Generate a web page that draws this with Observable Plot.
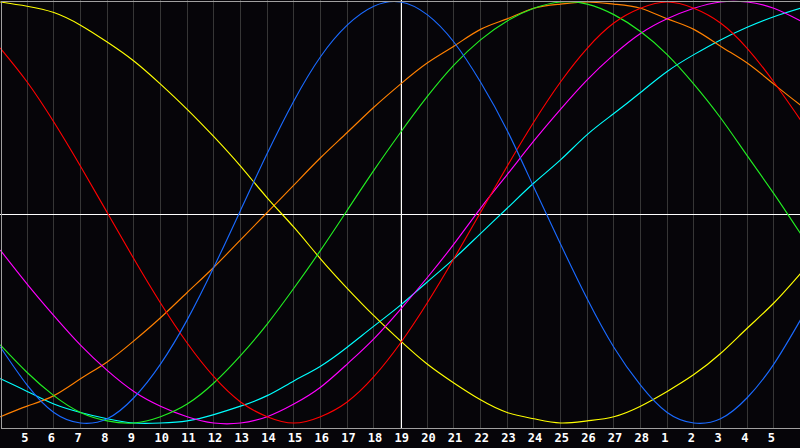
<!DOCTYPE html>
<html>
<head>
<meta charset="utf-8">
<script src="https://cdn.jsdelivr.net/npm/d3@7"></script>
<script src="https://cdn.jsdelivr.net/npm/@observablehq/plot@0.6"></script>
<style>
  html, body { margin: 0; padding: 0; background: #060509; }
  #chart svg { display: block; }
</style>
</head>
<body>
<div id="chart"></div>
<script>
// Day labels at grid lines 1..29 (day index 0..30 spans the chart)
const dayLabels = [5,6,7,8,9,10,11,12,13,14,15,16,17,18,19,20,21,22,23,24,25,26,27,28,1,2,3,4,5];
const todayIndex = 15;

// Values per day index 0..30 (-1 .. 1)
const blue = [-0.64,-0.82,-0.95,-1.00,-0.98,-0.88,-0.72,-0.51,-0.26,0.01,0.28,0.53,0.74,0.89,0.98,1.00,0.94,0.81,0.62,0.39,0.12,-0.15,-0.41,-0.64,-0.82,-0.95,-1.00,-0.98,-0.88,-0.72,-0.51];
const red = [0.78,0.62,0.43,0.22,0.00,-0.22,-0.43,-0.62,-0.78,-0.90,-0.97,-1.00,-0.97,-0.90,-0.78,-0.62,-0.43,-0.22,0.00,0.22,0.43,0.62,0.78,0.90,0.97,1.00,0.97,0.90,0.78,0.62,0.44];
const green = [-0.63,-0.76,-0.87,-0.95,-0.99,-1.00,-0.97,-0.91,-0.81,-0.68,-0.53,-0.36,-0.18,0.01,0.20,0.38,0.55,0.70,0.82,0.91,0.97,1.00,0.99,0.94,0.86,0.75,0.61,0.45,0.27,0.09,-0.10];
const yellow = [1.00,0.98,0.95,0.89,0.81,0.72,0.61,0.49,0.36,0.22,0.07,-0.07,-0.22,-0.36,-0.49,-0.61,-0.72,-0.81,-0.89,-0.95,-0.98,-1.00,-0.99,-0.97,-0.92,-0.85,-0.77,-0.67,-0.55,-0.43,-0.29];
const orange = [-0.97,-0.92,-0.87,-0.79,-0.71,-0.61,-0.50,-0.38,-0.26,-0.13,0.00,0.13,0.26,0.38,0.50,0.61,0.71,0.79,0.87,0.92,0.97,0.99,1.00,0.99,0.97,0.92,0.87,0.79,0.71,0.61,0.51];
const magenta = [-0.18,-0.34,-0.49,-0.63,-0.75,-0.85,-0.92,-0.97,-1.00,-1.00,-0.97,-0.91,-0.83,-0.72,-0.60,-0.46,-0.31,-0.15,0.02,0.18,0.34,0.49,0.63,0.75,0.85,0.92,0.97,1.00,1.00,0.97,0.91];
const cyan = [-0.79,-0.85,-0.91,-0.95,-0.98,-1.00,-1.00,-0.99,-0.96,-0.92,-0.87,-0.80,-0.73,-0.64,-0.54,-0.44,-0.33,-0.22,-0.10,0.02,0.14,0.25,0.37,0.47,0.57,0.67,0.75,0.82,0.88,0.93,0.97];

const seriesNames = ["cyan","orange","yellow","magenta","green","red","blue"];
const seriesValues = {cyan, orange, yellow, magenta, green, red, blue};
const seriesColors = {
  cyan: "#00ffff", orange: "#ff8000", yellow: "#ffff00", magenta: "#ff00ff",
  green: "#22ee22", red: "#ff0000", blue: "#1a6aff"
};

const gridIdx = dayLabels.map((d, k) => k + 1);

const lineMarks = seriesNames.map(name =>
  Plot.line(seriesValues[name], {
    x: (v, i) => i,
    y: v => v,
    stroke: seriesColors[name],
    strokeWidth: 1.15,
    curve: "natural"
  })
);

const chart = Plot.plot({
  width: 800,
  height: 448,
  marginTop: 0,
  marginRight: 0,
  marginBottom: 20,
  marginLeft: 0,
  style: {background: "#060509", overflow: "visible"},
  x: {domain: [0, 30], range: [0, 800], axis: null},
  y: {domain: [-1, 1], range: [422.5, 1.5], axis: null},
  marks: [
    Plot.ruleX(gridIdx, {x: d => d, stroke: "#363636", strokeWidth: 1, shapeRendering: "crispEdges"}),
    Plot.ruleY([0], {stroke: "#ffffff", strokeWidth: 1, dy: 1.5, shapeRendering: "crispEdges"}),
    Plot.ruleX([todayIndex], {stroke: "#ffffff", strokeWidth: 1, dx: 0.5, shapeRendering: "crispEdges"}),
    ...lineMarks,
    Plot.frame({stroke: "#a0a0a0", strokeWidth: 1, insetLeft: 0.5, insetTop: 0.5, insetRight: 0.5, shapeRendering: "crispEdges"}),
    Plot.text(gridIdx, {
      x: d => d,
      text: d => String(dayLabels[d - 1]),
      frameAnchor: "bottom",
      dy: 10,
      dx: -6,
      textAnchor: "start",
      lineAnchor: "middle",
      fill: "#ffffff",
      fontSize: 12,
      fontWeight: "bold",
      fontFamily: "DejaVu Sans Mono"
    })
  ]
});
document.getElementById("chart").appendChild(chart);
</script>
</body>
</html>
